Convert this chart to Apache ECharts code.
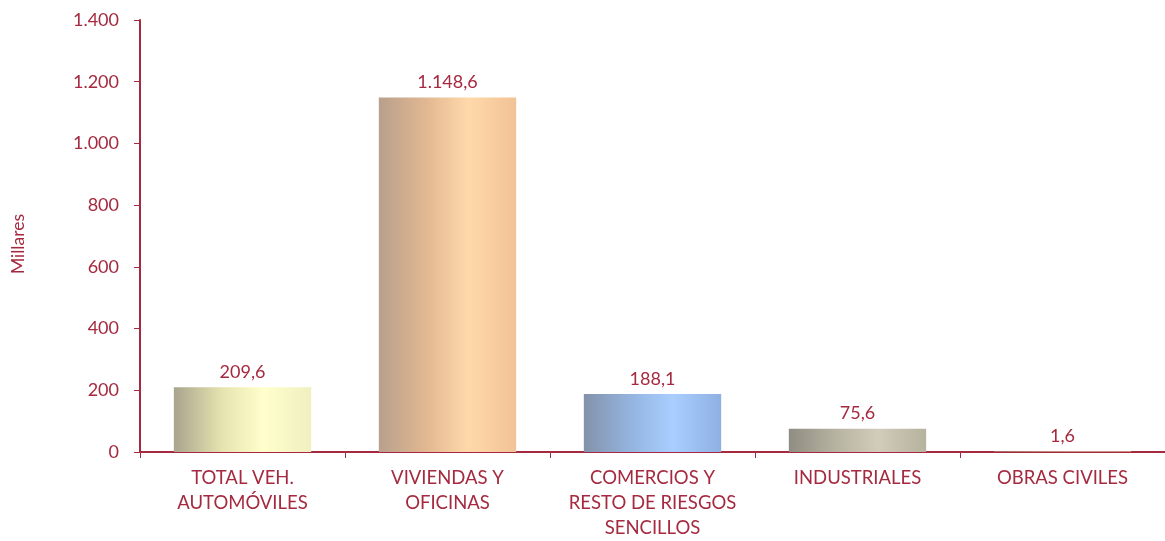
<!DOCTYPE html>
<html><head><meta charset="utf-8">
<script src="https://cdn.jsdelivr.net/npm/echarts@6/dist/echarts.min.js"></script>
<style>html,body{margin:0;padding:0;background:#fff}#c{width:1165px;height:541px}</style>
</head><body><div id="c"></div>
<script>
const categories = ["TOTAL VEH.\nAUTOMÓVILES", "VIVIENDAS Y\nOFICINAS", "COMERCIOS Y\nRESTO DE RIESGOS\nSENCILLOS", "INDUSTRIALES", "OBRAS CIVILES"];
const values = [209.6, 1148.6, 188.1, 75.6, 1.6];
const yTicks = [0, 200, 400, 600, 800, 1000, 1200, 1400];
const yTitle = 'Millares';

const RED = '#A52A3F';
const grads = [
  ['#A8A48E', '#E6E3B0', '#FFFFCC', '#F0EFC0'],
  ['#B8A08C', '#E2B892', '#FFD9AA', '#F2C296'],
  ['#8392AA', '#95B5E0', '#A9CEFF', '#8FB0E2'],
  ['#8F8D82', '#B8B4A2', '#D2CCBA', '#B5B29E']
];
function grad(i){
  const g = grads[i % grads.length];
  return new echarts.graphic.LinearGradient(0,0,1,0,[
    {offset:0,color:g[0]},{offset:0.35,color:g[1]},{offset:0.65,color:g[2]},{offset:1,color:g[3]}]);
}
function fmt(v, dec){
  const parts = v.toFixed(dec).split('.');
  parts[0] = parts[0].replace(/\B(?=(\d{3})+(?!\d))/g, '.');
  return parts.join(',');
}
const chart = echarts.init(document.getElementById('c'));
chart.setOption({
  animation:false,
  textStyle:{fontFamily:'Lato'},
  grid:{left:140,right:0,top:20,bottom:88,containLabel:false},
  graphic:[{type:'text',left:9,top:214,rotation:Math.PI/2,
    style:{text:yTitle,fill:RED,font:'17.5px Lato'}}],
  xAxis:{
    type:'category', data:categories,
    axisLine:{lineStyle:{color:RED,width:2}},
    axisTick:{show:true,length:6,lineStyle:{color:RED,width:1}},
    axisLabel:{color:RED,fontSize:18.5,lineHeight:25,margin:14,interval:0,fontFamily:'Lato'}
  },
  yAxis:{
    type:'value', min:yTicks[0], max:yTicks[yTicks.length-1], interval:200,
    axisLine:{show:true,lineStyle:{color:RED,width:2}},
    axisTick:{show:true,length:6,lineStyle:{color:RED,width:1}},
    splitLine:{show:false},
    axisLabel:{color:RED,fontSize:18,margin:21,fontFamily:'Lato',formatter:v=>fmt(v,0)}
  },
  series:[{
    type:'bar', barCategoryGap:'33%',
    data:values.map((v,i)=>({value:v,itemStyle:{color:grad(i)}})),
    label:{show:true,position:'top',distance:6,color:RED,fontSize:18,fontFamily:'Lato',formatter:p=>fmt(p.value,1)}
  }]
});
</script></body></html>
